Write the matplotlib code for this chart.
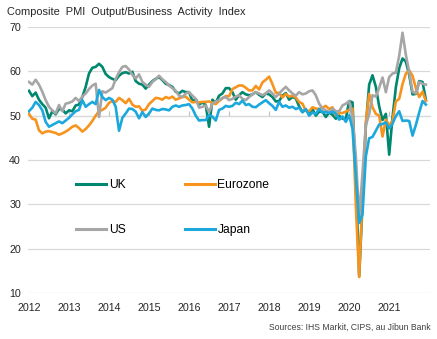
import matplotlib
matplotlib.use("Agg")
import matplotlib.pyplot as plt
import numpy as np

plt.rcParams['font.family'] = ['Liberation Sans', 'DejaVu Sans']

start_year = 2012
year_ticks = [2012, 2013, 2014, 2015, 2016, 2017, 2018, 2019, 2020, 2021]
y_ticks = [10, 20, 30, 40, 50, 60, 70]

uk = [
    55.6, 54.4, 55.2, 53.6, 52.6, 51.8, 49.4, 51.0, 50.3, 51.5, 51.4, 50.5,
    51.2, 51.0, 52.3, 52.5, 54.2, 56.5, 59.5, 60.8, 61.0, 61.7, 61.0, 59.4,
    58.7, 58.3, 58.0, 59.0, 59.6, 59.8, 59.5, 59.9, 57.8, 57.2, 57.0, 56.1,
    57.0, 57.8, 58.3, 58.7, 58.0, 57.2, 56.9, 56.5, 55.4, 55.0, 55.6, 55.3,
    55.3, 53.3, 53.7, 52.5, 53.0, 52.4, 47.5, 53.6, 52.9, 54.5, 55.0, 56.2,
    56.2, 55.3, 53.6, 54.6, 55.3, 54.8, 54.6, 54.8, 55.3, 54.7, 54.2, 55.0,
    54.8, 54.2, 53.2, 53.3, 54.5, 55.1, 53.6, 54.2, 53.9, 52.1, 50.8, 51.4,
    50.3, 51.5, 50.0, 50.9, 50.9, 49.7, 50.7, 50.2, 49.3, 50.0, 49.3, 49.3,
    53.3, 53.0, 36.0, 13.8, 30.0, 47.7, 57.0, 59.1, 56.5, 52.1, 49.0, 50.4,
    41.2, 49.6, 56.4, 60.7, 62.9, 62.2, 59.2, 54.8, 54.9, 57.8, 57.6, 53.6,
]

eurozone = [
    50.4, 49.3, 49.1, 46.7, 46.0, 46.4, 46.5, 46.3, 46.1, 45.7, 46.0, 46.4,
    46.9, 47.5, 47.8, 47.2, 46.4, 47.0, 47.8, 48.8, 50.0, 51.0, 51.3, 51.8,
    52.9, 53.3, 53.1, 54.0, 53.5, 52.8, 53.8, 52.5, 52.0, 52.1, 51.1, 51.4,
    52.6, 53.3, 54.0, 53.9, 53.6, 54.2, 53.9, 54.3, 53.6, 53.9, 54.2, 54.3,
    53.6, 53.0, 53.1, 53.0, 53.1, 53.1, 53.2, 52.9, 52.6, 53.3, 53.9, 54.4,
    54.4, 56.0, 56.4, 56.8, 56.8, 56.3, 55.7, 55.7, 56.7, 55.9, 57.5, 58.1,
    58.8, 57.1, 55.2, 55.1, 54.1, 54.9, 54.3, 54.5, 54.1, 53.1, 52.7, 51.1,
    51.0, 51.9, 51.6, 51.5, 51.8, 52.2, 51.5, 51.9, 50.1, 50.6, 50.6, 50.9,
    51.3, 51.6, 29.7, 13.6, 31.9, 48.5, 54.9, 51.9, 50.4, 50.0, 45.3, 49.1,
    47.8, 48.8, 53.2, 53.8, 57.1, 59.5, 60.2, 59.0, 56.2, 54.2, 55.4, 53.3,
]

us = [
    57.6, 57.0, 58.1, 57.0, 55.4, 53.5, 52.0, 51.2, 50.5, 52.4, 51.0, 52.7,
    52.9, 53.2, 54.0, 53.3, 54.3, 55.0, 56.0, 56.8, 57.2, 49.7, 55.5, 55.2,
    55.7, 56.2, 58.3, 59.8, 61.0, 61.2, 60.4, 59.2, 58.4, 59.3, 57.6, 57.0,
    56.5, 57.6, 58.2, 59.0, 58.2, 57.6, 56.8, 56.2, 55.6, 54.5, 54.2, 55.0,
    55.3, 54.5, 53.8, 51.8, 52.0, 52.3, 50.8, 52.7, 53.2, 53.5, 54.0, 54.2,
    53.5, 53.8, 54.3, 54.6, 53.8, 53.5, 54.2, 54.8, 55.3, 55.0, 54.6, 55.0,
    55.7, 55.0, 54.2, 55.0, 55.8, 56.5, 55.7, 55.0, 54.5, 55.3, 54.8, 55.0,
    55.5, 55.7, 54.6, 52.7, 51.6, 51.2, 50.8, 51.6, 51.0, 51.0, 52.3, 52.7,
    53.3, 49.6, 40.9, 27.0, 37.0, 47.9, 50.3, 54.6, 54.3, 56.3, 58.6, 55.3,
    58.7, 59.5, 59.7, 63.5, 68.7, 63.7, 59.9, 55.4, 55.0, 57.6, 57.2, 57.0,
]

japan = [
    51.0, 51.8, 53.1, 52.4, 51.2, 48.6, 47.5, 47.9, 48.3, 48.7, 48.3, 48.9,
    49.5, 50.3, 51.0, 51.3, 53.5, 52.0, 52.6, 53.1, 52.6, 55.8, 54.2, 53.5,
    54.0, 53.6, 52.0, 46.6, 49.5, 50.5, 51.6, 51.5, 50.9, 49.4, 50.8, 49.7,
    50.5, 51.6, 51.3, 51.2, 51.5, 51.4, 51.2, 52.0, 52.3, 52.0, 52.3, 52.4,
    52.6, 51.6, 50.0, 48.9, 49.0, 49.0, 50.1, 49.8, 48.9, 51.3, 51.6, 52.2,
    52.0, 52.2, 52.9, 52.6, 53.4, 52.4, 52.6, 52.0, 51.9, 52.5, 53.0, 53.5,
    52.8, 52.2, 51.3, 53.1, 52.0, 52.3, 51.8, 52.0, 51.5, 51.8, 50.8, 51.5,
    50.0, 50.7, 50.4, 51.5, 50.7, 50.8, 50.6, 50.9, 50.5, 49.1, 49.8, 48.6,
    50.1, 47.0, 36.2, 25.8, 27.8, 40.8, 44.9, 45.2, 46.6, 48.0, 48.1, 48.5,
    47.1, 48.2, 49.9, 51.0, 48.8, 48.9, 48.8, 45.5, 47.9, 50.7, 53.3, 52.5,
]

series_names = ["UK", "Eurozone", "US", "Japan"]
colors = {"UK": "#00876F", "Eurozone": "#F7941E", "US": "#A6A6A6", "Japan": "#1CA8DD"}
data = {"UK": uk, "Eurozone": eurozone, "US": us, "Japan": japan}

x = start_year + np.arange(len(uk)) / 12.0

fig = plt.figure(figsize=(4.37, 3.39), dpi=100)
ax = fig.add_axes([0.064, 0.1357, 0.920, 0.7847])

grid_color = "#D9D9D9"
for yv in y_ticks:
    ax.axhline(yv, color=grid_color, lw=0.9, zorder=0)

lines = {}
for name in series_names:
    (ln,) = ax.plot(x, data[name], color=colors[name], lw=1.9, label=name,
                    solid_joinstyle="round", zorder=2)
    lines[name] = ln

ax.set_xlim(2011.975, 2022.02)
ax.set_ylim(10, 70)
ax.set_yticks(y_ticks)
ax.set_xticks(year_ticks)
ax.set_xticklabels([str(y) for y in year_ticks])
for s in ax.spines.values():
    s.set_visible(False)
ax.tick_params(axis="both", length=0, labelsize=7.7, colors="#262626")
ax.tick_params(axis="x", pad=7)
ax.tick_params(axis="y", pad=5)

# axis crossing at 50 with year tick marks
sec = ax.secondary_xaxis((50 - 10) / 60.0)
sec.set_xticks(year_ticks)
sec.set_xticklabels([])
sec.tick_params(axis="x", length=3.5, width=0.8, color="#BFBFBF", direction="out")
for s in sec.spines.values():
    s.set_color(grid_color)
    s.set_linewidth(0.9)
sec.set_zorder(0.5)

handles = [lines["UK"], lines["US"], lines["Eurozone"], lines["Japan"]]
leg = ax.legend(handles, [h.get_label() for h in handles], ncol=2, frameon=False,
                loc="upper left", bbox_to_anchor=(0.093, 0.47), fontsize=8.7,
                handlelength=2.5, handletextpad=0.2, columnspacing=4.9,
                labelspacing=2.75)
for h in leg.get_lines():
    h.set_linewidth(2.2)

fig.text(0.016, 0.965, "Composite  PMI  Output/Business  Activity  Index",
         fontsize=7.9, color="#262626", va="center", ha="left")
fig.text(0.986, 0.035, "Sources: IHS Markit, CIPS, au Jibun Bank",
         fontsize=6.2, color="#404040", va="center", ha="right")

fig.savefig("out.png", dpi=100)
